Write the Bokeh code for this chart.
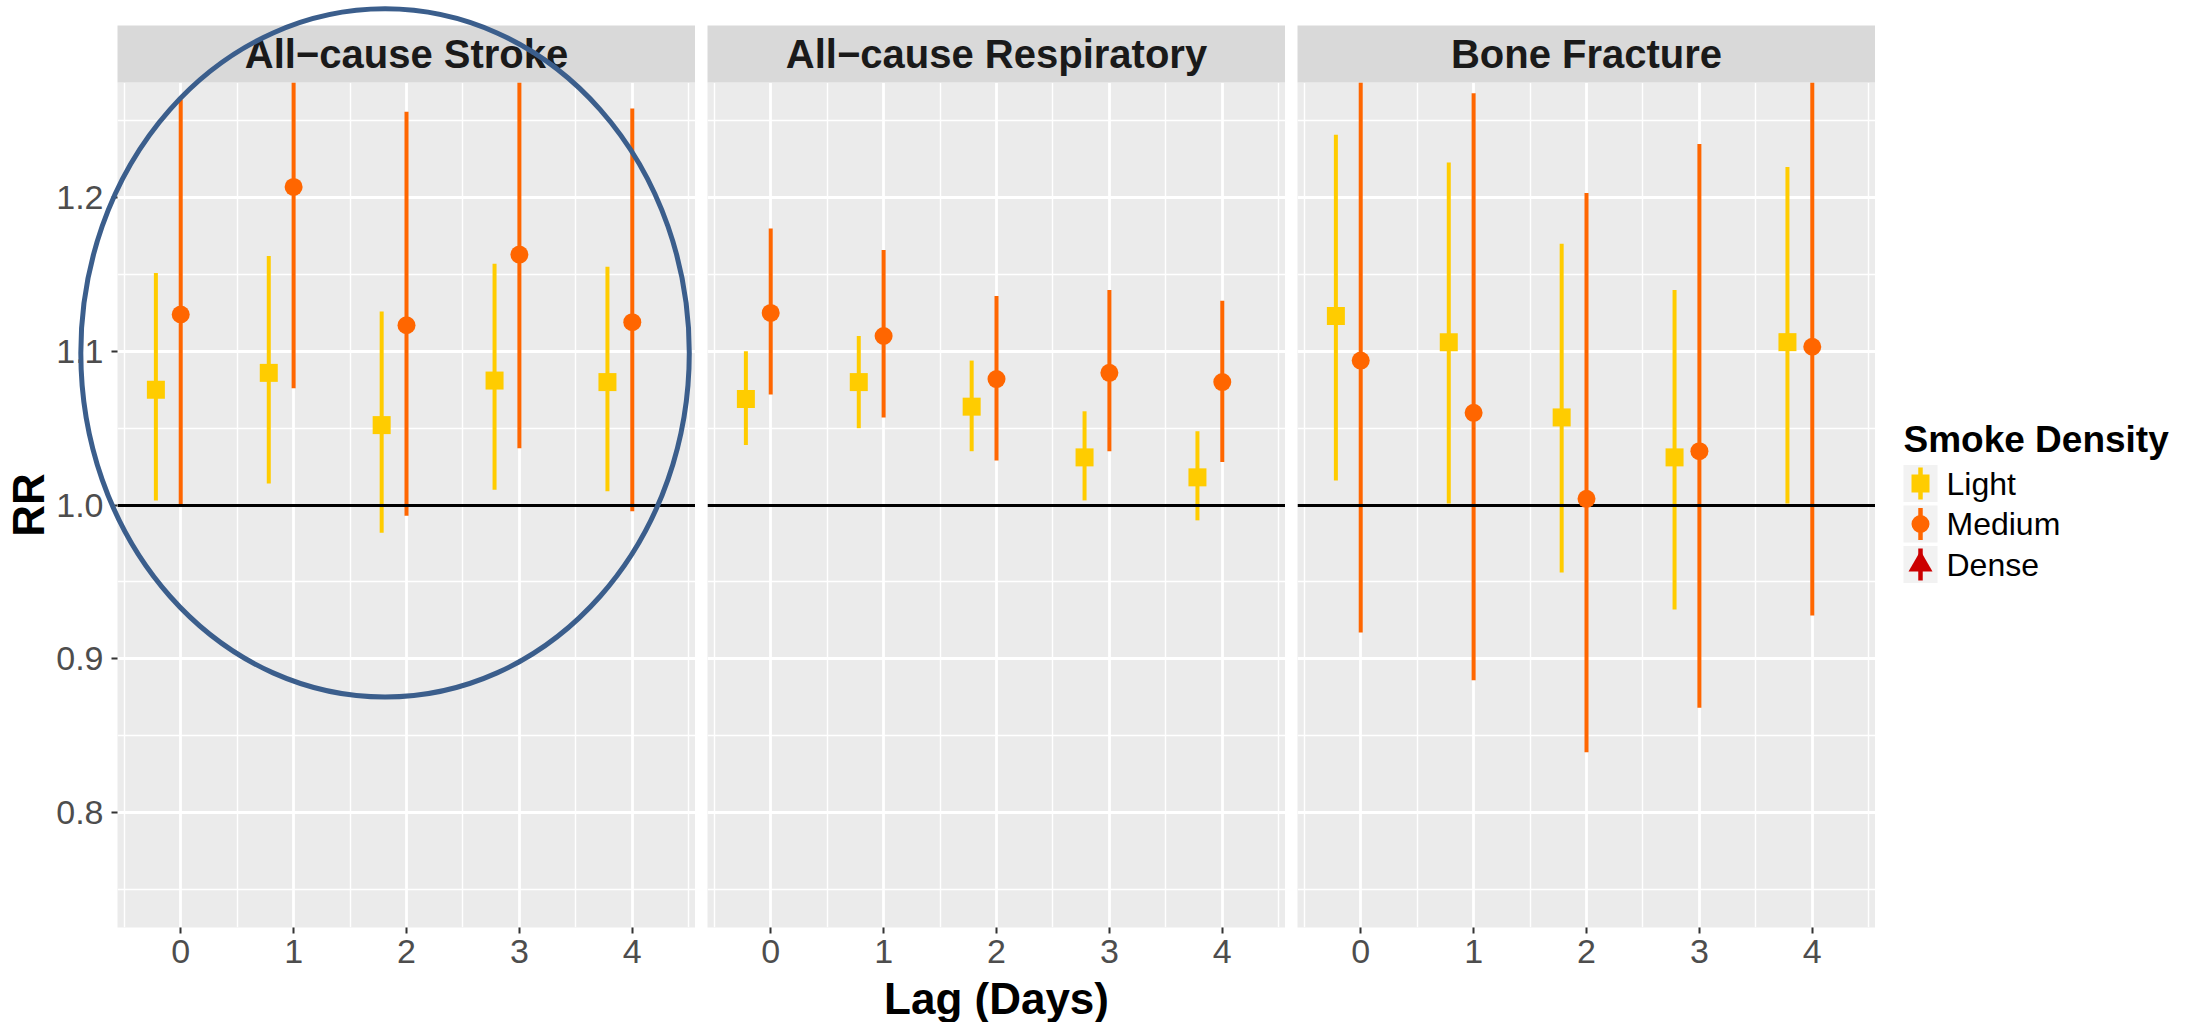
from bokeh.plotting import figure
from bokeh.models import ColumnDataSource, FixedTicker, Grid, Range1d, PrintfTickFormatter
from bokeh.layouts import row
from bokeh.embed import file_html
from bokeh.resources import INLINE
from bokeh.core.properties import value

# ---------------- data ----------------
lags = [0, 1, 2, 3, 4]
panel_titles = ["All\u2212cause Stroke", "All\u2212cause Respiratory", "Bone Fracture"]
densities = ["Light", "Medium", "Dense"]
x_ticks = [0, 1, 2, 3, 4]
y_ticks = [0.8, 0.9, 1.0, 1.1, 1.2]

# All-cause Stroke
stroke_light_rr = [1.075, 1.086, 1.052, 1.081, 1.080]
stroke_light_lo = [1.003, 1.014, 0.982, 1.010, 1.009]
stroke_light_hi = [1.151, 1.162, 1.126, 1.157, 1.155]
stroke_medium_rr = [1.124, 1.207, 1.117, 1.163, 1.119]
stroke_medium_lo = [0.999, 1.076, 0.993, 1.037, 0.996]
stroke_medium_hi = [1.264, 1.354, 1.256, 1.305, 1.258]

# All-cause Respiratory
resp_light_rr = [1.069, 1.080, 1.064, 1.031, 1.018]
resp_light_lo = [1.039, 1.050, 1.035, 1.003, 0.990]
resp_light_hi = [1.100, 1.110, 1.094, 1.061, 1.048]
resp_medium_rr = [1.125, 1.110, 1.082, 1.086, 1.080]
resp_medium_lo = [1.072, 1.057, 1.029, 1.035, 1.028]
resp_medium_hi = [1.180, 1.166, 1.136, 1.140, 1.133]

# Bone Fracture
bone_light_rr = [1.123, 1.106, 1.057, 1.031, 1.106]
bone_light_lo = [1.016, 1.001, 0.956, 0.932, 1.001]
bone_light_hi = [1.241, 1.223, 1.170, 1.140, 1.220]
bone_medium_rr = [1.094, 1.060, 1.004, 1.035, 1.103]
bone_medium_lo = [0.917, 0.886, 0.839, 0.868, 0.928]
bone_medium_hi = [1.304, 1.268, 1.203, 1.235, 1.311]

panel_data = [
    {"Light": (stroke_light_rr, stroke_light_lo, stroke_light_hi),
     "Medium": (stroke_medium_rr, stroke_medium_lo, stroke_medium_hi)},
    {"Light": (resp_light_rr, resp_light_lo, resp_light_hi),
     "Medium": (resp_medium_rr, resp_medium_lo, resp_medium_hi)},
    {"Light": (bone_light_rr, bone_light_lo, bone_light_hi),
     "Medium": (bone_medium_rr, bone_medium_lo, bone_medium_hi)},
]

# ---------------- styles ----------------
COLORS = {"Light": "#FFCC00", "Medium": "#FF6600", "Dense": "#CC0000"}
MARKERS = {"Light": "square", "Medium": "circle", "Dense": "triangle"}
DODGE = {"Light": -0.22, "Medium": 0.0, "Dense": 0.22}
FONT = "Liberation Sans"

X_RANGE = (-0.56, 4.56)
Y_RANGE = (0.725, 1.275)
FRAME_W, FRAME_H = 578, 845
TOP, BOTTOM, LEFT1, GAP = 82, 95, 117, 12
STRIP_PX = 57

# highlight ellipse (data units of the first panel)
HL_X, HL_Y, HL_W, HL_H = 1.81, 1.099, 5.39, 0.448

y_per_px = (Y_RANGE[1] - Y_RANGE[0]) / FRAME_H
x_mid = (X_RANGE[0] + X_RANGE[1]) / 2
x_span = X_RANGE[1] - X_RANGE[0]


def make_panel(i):
    left = LEFT1 if i == 0 else GAP
    p = figure(width=left + FRAME_W, height=TOP + FRAME_H + BOTTOM,
               x_range=Range1d(*X_RANGE), y_range=Range1d(*Y_RANGE),
               output_backend="svg", toolbar_location=None, title=None,
               x_axis_location="below", y_axis_location="left" if i == 0 else None,
               min_border_left=left, min_border_right=0,
               min_border_top=TOP, min_border_bottom=BOTTOM,
               background_fill_color="#EBEBEB", border_fill_color="white",
               outline_line_color=None)
    p.xgrid.visible = False
    p.ygrid.visible = False
    xt = FixedTicker(ticks=x_ticks, minor_ticks=[-0.5, 0.5, 1.5, 2.5, 3.5, 4.5])
    yt = FixedTicker(ticks=y_ticks, minor_ticks=[0.75, 0.85, 0.95, 1.05, 1.15, 1.25])
    for dim, tk in ((0, xt), (1, yt)):
        g = Grid(dimension=dim, ticker=tk, grid_line_color="white", grid_line_width=2.8,
                 minor_grid_line_color="white", minor_grid_line_width=1.4)
        p.add_layout(g)

    axes = list(p.xaxis) + (list(p.yaxis) if i == 0 else [])
    for ax in axes:
        ax.axis_line_color = None
        ax.major_tick_in = 0
        ax.major_tick_out = 6
        ax.major_tick_line_color = "#333333"
        ax.major_tick_line_width = 2
        ax.minor_tick_line_color = None
        ax.major_label_text_font = FONT
        ax.major_label_text_font_size = "34px"
        ax.major_label_text_color = "#4D4D4D"
        ax.major_label_standoff = 6
    p.xaxis.ticker = xt
    if i == 0:
        p.yaxis.ticker = yt
        p.yaxis.formatter = PrintfTickFormatter(format="%.1f")
        p.yaxis.major_label_standoff = 8
        p.yaxis.axis_label = "RR"
        p.yaxis.axis_label_text_font = FONT
        p.yaxis.axis_label_text_font_size = "44px"
        p.yaxis.axis_label_text_font_style = "bold"
        p.yaxis.axis_label_text_color = "black"
        p.yaxis.axis_label_standoff = 0

    data = panel_data[i]
    srcs = {}
    for d in ["Light", "Medium"]:
        rr, lo, hi = data[d]
        srcs[d] = ColumnDataSource(dict(x=[l + DODGE[d] for l in lags], rr=rr, lo=lo, hi=hi))
        p.segment(x0="x", y0="lo", x1="x", y1="hi", source=srcs[d],
                  line_color=COLORS[d], line_width=4)
    p.hspan(y=[1.0], line_color="black", line_width=2.8)
    for d in ["Light", "Medium"]:
        p.scatter(x="x", y="rr", source=srcs[d], marker=MARKERS[d], size=18,
                  fill_color=COLORS[d], line_color=None)

    # facet strip above panel
    strip_h = STRIP_PX * y_per_px
    p.rect(x=[x_mid], y=[Y_RANGE[1] + strip_h / 2], width=[x_span], height=[strip_h],
           fill_color="#D9D9D9", line_color=None, level="annotation")
    p.text(x=[x_mid], y=[Y_RANGE[1]], text=[panel_titles[i]], y_offset=-STRIP_PX / 2,
           text_align="center", text_baseline="middle", text_font=value(FONT),
           text_font_size="40px", text_font_style="bold", text_color="#1A1A1A",
           level="annotation")
    return p


figs = [make_panel(i) for i in range(3)]

# x-axis title centred under the middle panel
figs[1].text(x=[x_mid], y=[Y_RANGE[0]], text=["Lag (Days)"], y_offset=71,
             text_align="center", text_baseline="middle", text_font=value(FONT),
             text_font_size="44px", text_font_style="bold", text_color="black",
             level="annotation")

# highlight ellipse on first panel
figs[0].ellipse(x=[HL_X], y=[HL_Y], width=[HL_W], height=[HL_H], fill_color=None,
                line_color="#3B5E8C", line_width=5, level="annotation")

# ---------------- legend ----------------
LW = 2199 - (LEFT1 + FRAME_W) - 2 * (GAP + FRAME_W)
LH = TOP + FRAME_H + BOTTOM
# frame of the legend column coincides with the panels' frames (rows align frames);
# its data units are pixels measured from the bottom of the canvas
lg = figure(width=LW, height=LH, x_range=Range1d(0, LW), y_range=Range1d(BOTTOM, LH - TOP),
            min_border_left=0, min_border_right=0, min_border_top=TOP, min_border_bottom=BOTTOM,
            output_backend="svg", toolbar_location=None, title=None,
            x_axis_location=None, y_axis_location=None, outline_line_color=None,
            background_fill_color="white", border_fill_color="white")
lg.xgrid.visible = False
lg.ygrid.visible = False
KEY_X, KEY_W, KEY_H, KEY_TOP0, KEY_DY, LAB_X = 45, 34, 37, 483, 40.5, 71
TITLE_TOP = 439
ky = [LH - (KEY_TOP0 + k * KEY_DY) for k in range(len(densities))]
lsrc = ColumnDataSource(dict(x=[KEY_X] * 3, lx=[LAB_X] * 3, y=ky,
                             y0=[v - 16 for v in ky], y1=[v + 16 for v in ky],
                             c=[COLORS[d] for d in densities], m=[MARKERS[d] for d in densities],
                             s=[18, 18, 24], lab=densities))
lg.text(x=[28], y=[LH - TITLE_TOP], text=["Smoke Density"], text_font=value(FONT),
        text_font_size="37px", text_font_style="bold", text_color="black",
        text_baseline="middle")
lg.rect(x="x", y="y", width=KEY_W, height=KEY_H, source=lsrc, fill_color="#F2F2F2", line_color=None)
lg.segment(x0="x", y0="y0", x1="x", y1="y1", source=lsrc, line_color="c", line_width=4.5)
lg.scatter(x="x", y="y", marker="m", size="s", source=lsrc, fill_color="c", line_color=None)
lg.text(x="lx", y="y", text="lab", source=lsrc, text_font=value(FONT), text_font_size="32px",
        text_color="black", text_baseline="middle")

layout = row(*figs, lg)
open("out.html", "w").write(file_html(layout, INLINE))
